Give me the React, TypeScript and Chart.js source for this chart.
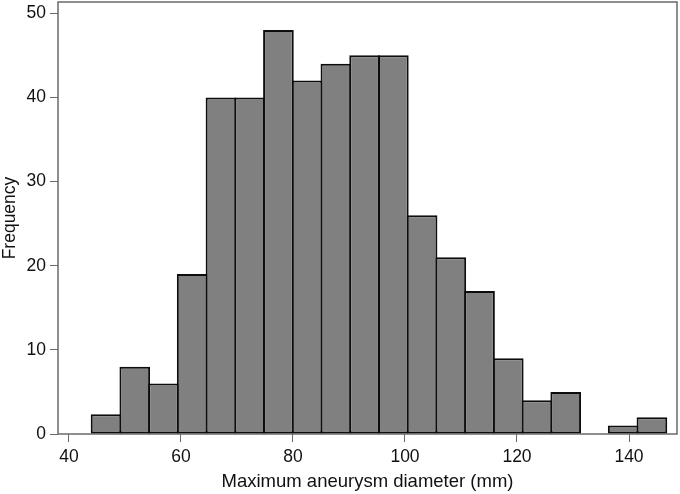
import { useEffect, useRef } from "react";
import { Chart, registerables } from "chart.js";

Chart.register(...registerables);

// Histogram bin centres (mm) and counts
const binCenters = [
  46.62, 51.75, 56.88, 62.0, 67.14, 72.27, 77.4, 82.53, 87.66, 92.79,
  97.92, 103.05, 108.18, 113.31, 118.44, 123.57, 128.7, 133.83, 138.96, 144.09,
];
const frequencies = [2.35, 8, 6, 19, 40, 40, 48, 42, 44, 45, 45, 26, 21, 17, 9, 4, 5, 0, 1, 2];
const xTicks = [40, 60, 80, 100, 120, 140];
const yTicks = [0, 10, 20, 30, 40, 50];
const xTitle = "Maximum aneurysm diameter (mm)";
const yTitle = "Frequency";

const FONT = "'Liberation Sans', Arial, Helvetica, sans-serif";

export default function App() {
  const ref = useRef<HTMLCanvasElement | null>(null);

  useEffect(() => {
    const canvas = ref.current;
    if (!canvas) return;

    const framePlugin = {
      id: "frame",
      beforeDatasetsDraw(chart: any) {
        const { ctx, chartArea } = chart;
        ctx.save();
        ctx.strokeStyle = "#6a6a6a";
        ctx.lineWidth = 1.5;
        ctx.strokeRect(chartArea.left, chartArea.top, chartArea.right - chartArea.left, chartArea.bottom - chartArea.top);
        ctx.restore();
      },
    };

    const chart = new Chart(canvas, {
      type: "bar",
      data: {
        datasets: [
          {
            data: binCenters.map((x, i) => ({ x, y: frequencies[i] })),
            backgroundColor: "#808080",
            borderColor: "#0d0d0d",
            borderWidth: 2,
            borderSkipped: false,
            barPercentage: 1.07,
            categoryPercentage: 1,
          } as any,
        ],
      },
      plugins: [framePlugin],
      options: {
        responsive: false,
        maintainAspectRatio: false,
        animation: false,
        devicePixelRatio: 1,
        layout: { padding: { top: 2, right: 3, left: 0, bottom: 0 } },
        plugins: {
          legend: { display: false },
          tooltip: { enabled: false },
        },
        scales: {
          x: {
            type: "linear",
            offset: false,
            min: 38.04,
            max: 148.57,
            afterBuildTicks: (scale: any) => {
              scale.ticks = xTicks.map((v) => ({ value: v }));
            },
            afterFit: (scale: any) => {
              scale.height = 60;
              scale.paddingLeft = 0;
              scale.paddingRight = 0;
            },
            grid: {
              display: true,
              offset: false,
              drawOnChartArea: false,
              drawTicks: true,
              tickLength: 8,
              color: "#6a6a6a",
              lineWidth: 1,
            },
            border: { display: false },
            ticks: {
              autoSkip: false,
              maxRotation: 0,
              padding: 5,
              color: "#111",
              font: { family: FONT, size: 17.5 },
              callback: (v: any) => String(v),
            },
            title: {
              display: true,
              text: xTitle,
              color: "#111",
              font: { family: FONT, size: 18.5 },
              padding: { top: 0, bottom: 1 },
            },
          },
          y: {
            type: "linear",
            min: 0,
            max: 51.34,
            afterBuildTicks: (scale: any) => {
              scale.ticks = yTicks.map((v) => ({ value: v }));
            },
            afterFit: (scale: any) => {
              scale.width = 58;
              scale.paddingTop = 0;
              scale.paddingBottom = 0;
            },
            grid: {
              display: true,
              drawOnChartArea: false,
              drawTicks: true,
              tickLength: 8,
              color: "#6a6a6a",
              lineWidth: 1,
            },
            border: { display: false },
            ticks: {
              padding: 4,
              color: "#111",
              font: { family: FONT, size: 17.5 },
              callback: (v: any) => String(v),
            },
            title: {
              display: true,
              text: yTitle,
              color: "#111",
              font: { family: FONT, size: 17.5 },
              padding: { top: 0, bottom: 0 },
            },
          },
        },
      } as any,
    });

    return () => chart.destroy();
  }, []);

  return (
    <div style={{ position: "absolute", left: 0, top: 0, width: 680, height: 494, background: "#fff" }}>
      <canvas ref={ref} width={680} height={494} style={{ display: "block", width: 680, height: 494 }} />
    </div>
  );
}
